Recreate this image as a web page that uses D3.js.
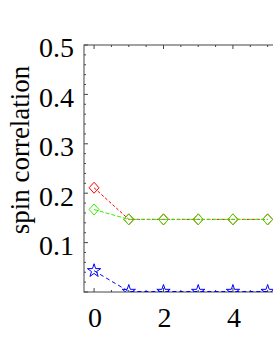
<!DOCTYPE html>
<html>
<head>
<meta charset="utf-8">
<script src="https://cdn.jsdelivr.net/npm/d3@7"></script>
<style>
  html, body { margin: 0; padding: 0; background: #fff; }
  svg { display: block; }
</style>
</head>
<body>
<svg width="273" height="353"></svg>
<script>
const steps = [0, 1, 2, 3, 4, 5]
const redValues = [0.211, 0.147, 0.147, 0.147, 0.147, 0.147]
const greenValues = [0.167, 0.147, 0.147, 0.147, 0.147, 0.147]
const blueValues = [0.043, 0.001, 0.001, 0.001, 0.001, 0.001]
const xTickLabels = [0, 2, 4]
const yTickLabels = [0.1, 0.2, 0.3, 0.4, 0.5]

let svg = d3.select('svg')
let plotLeft = 84
let plotTop = 45
let plotBottom = 292
let plotRight = 285

let x = d3.scaleLinear().domain([-0.29, 5.5]).range([plotLeft, plotRight])
let y = d3.scaleLinear().domain([0, 0.5]).range([plotBottom, plotTop])

let font = "'Liberation Serif', 'DejaVu Serif', serif"

svg.append('defs').append('clipPath').attr('id', 'plot')
  .append('rect')
  .attr('x', plotLeft).attr('y', plotTop)
  .attr('width', plotRight - plotLeft).attr('height', plotBottom - plotTop)

// frame
let frame = svg.append('g')
frame.append('rect')
  .attr('x', plotLeft).attr('y', plotTop)
  .attr('width', plotRight - plotLeft).attr('height', plotBottom - plotTop)
  .attr('fill', 'none')
  .attr('stroke', '#444')
  .attr('stroke-width', 1)

// inward ticks, mirrored top/bottom and left
let xMinor = d3.range(0, 5.51, 0.5)
xMinor.forEach(function (t) {
  let len = xTickLabels.indexOf(t) >= 0 ? 4 : 2
  frame.append('line')
    .attr('x1', x(t)).attr('x2', x(t))
    .attr('y1', plotBottom).attr('y2', plotBottom - len)
    .attr('stroke', '#444')
  frame.append('line')
    .attr('x1', x(t)).attr('x2', x(t))
    .attr('y1', plotTop).attr('y2', plotTop + len)
    .attr('stroke', '#444')
})

let yMinor = d3.range(0, 0.501, 0.02)
yMinor.forEach(function (t) {
  let major = Math.abs(Math.round(t * 10) - t * 10) < 1e-6
  frame.append('line')
    .attr('x1', plotLeft).attr('x2', plotLeft + (major ? 4 : 2))
    .attr('y1', y(t)).attr('y2', y(t))
    .attr('stroke', '#444')
})

// tick labels
svg.append('g').selectAll('text')
  .data(xTickLabels)
  .enter()
  .append('text')
  .attr('x', d => x(d) + 1)
  .attr('y', 327)
  .attr('text-anchor', 'middle')
  .attr('font-family', font)
  .attr('font-size', 28)
  .text(d => d)

svg.append('g').selectAll('text')
  .data(yTickLabels)
  .enter()
  .append('text')
  .attr('x', 74)
  .attr('y', d => y(d) + 12.3)
  .attr('text-anchor', 'end')
  .attr('font-family', font)
  .attr('font-size', 28)
  .text(d => d3.format('.1f')(d))

svg.append('text')
  .attr('transform', 'translate(29,150) rotate(-90)')
  .attr('text-anchor', 'middle')
  .attr('font-family', font)
  .attr('font-size', 27)
  .text('spin correlation')

// series
let line = d3.line()
  .x(d => x(d.step))
  .y(d => y(d.value))

let diamond = 'M0,-5.5L5,0L0,5.5L-5,0Z'
let star = d3.symbol().type(d3.symbolStar).size(55)()

function drawSeries (values, color, dash, shape) {
  let data = steps.map((s, i) => ({ step: s, value: values[i] }))
  let g = svg.append('g').attr('clip-path', 'url(#plot)')
  g.append('path')
    .attr('d', line(data))
    .attr('fill', 'none')
    .attr('stroke', color)
    .attr('stroke-width', 1)
    .attr('stroke-dasharray', dash)
  g.selectAll('path.m')
    .data(data)
    .enter()
    .append('path')
    .attr('class', 'm')
    .attr('d', shape)
    .attr('transform', d => 'translate(' + x(d.step) + ',' + y(d.value) + ')')
    .attr('fill', 'none')
    .attr('stroke', color)
    .attr('stroke-width', 1)
}

drawSeries(blueValues, '#0000ff', '4,3', star)
drawSeries(redValues, '#ff0000', '3,2', diamond)
drawSeries(greenValues, '#33ee00', '4,2', diamond)
</script>
</body>
</html>
